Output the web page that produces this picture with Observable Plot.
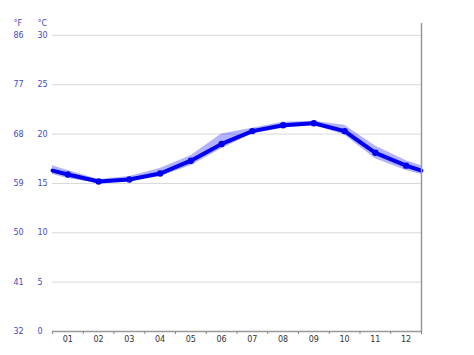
<!DOCTYPE html>
<html>
<head>
<meta charset="utf-8">
<script src="https://cdn.jsdelivr.net/npm/d3@7"></script>
<script src="https://cdn.jsdelivr.net/npm/@observablehq/plot@0.6"></script>
<style>
  html, body { margin: 0; padding: 0; background: white; }
</style>
</head>
<body>
<div id="chart"></div>
<script>
const months = ["01","02","03","04","05","06","07","08","09","10","11","12"];
const tempMean = [15.9, 15.2, 15.4, 16.0, 17.3, 19.0, 20.3, 20.9, 21.1, 20.3, 18.1, 16.8];
const tempMin  = [15.5, 15.0, 15.2, 15.7, 16.8, 18.5, 20.0, 20.6, 20.9, 19.9, 17.5, 16.3];
const tempMax  = [16.3, 15.4, 15.7, 16.5, 17.8, 20.0, 20.6, 21.2, 21.3, 20.9, 18.8, 17.3];
// values at the chart's left/right edges (year wrap)
const edgeMean = 16.3, edgeMin = 15.9, edgeMax = 16.8;
const celsiusTicks = [0, 5, 10, 15, 20, 25, 30];
const fahrenheitLabels = ["32", "41", "50", "59", "68", "77", "86"];

const monthly = months.map((m, i) => ({x: i + 1, mean: tempMean[i], min: tempMin[i], max: tempMax[i]}));
const series = [
  {x: 0.5, mean: edgeMean, min: edgeMin, max: edgeMax},
  ...monthly,
  {x: 12.5, mean: edgeMean, min: edgeMin, max: edgeMax}
];
const monthIdx = months.map((m, i) => i + 1);
const boundaries = d3.range(0.5, 13, 1);
const labelColor = "#4646c8";

const chart = Plot.plot({
  width: 474,
  height: 355,
  marginLeft: 52,
  marginRight: 53,
  marginTop: 23,
  marginBottom: 24,
  x: {domain: [0.5, 12.5], axis: null},
  y: {domain: [0, 31.2], axis: null},
  style: {fontFamily: "DejaVu Sans, sans-serif", fontSize: "8px", background: "white"},
  marks: [
    Plot.gridY(celsiusTicks.filter(d => d > 0), {stroke: "#d8d8d8", strokeOpacity: 1}),
    Plot.areaY(series, {x: "x", y1: "min", y2: "max", fill: "#0000ff", fillOpacity: 0.3}),
    Plot.line(series, {x: "x", y: "mean", stroke: "#0000ee", strokeWidth: 4}),
    Plot.dot(monthly, {x: "x", y: "mean", r: 3.2, fill: "#0000ee"}),
    Plot.ruleY([0], {stroke: "#999", strokeWidth: 1.5}),
    Plot.ruleX([12.5], {stroke: "#999", strokeWidth: 1.5}),
    Plot.axisX(boundaries, {tickSize: 3, tickFormat: () => "", stroke: "#888", label: null}),
    Plot.axisX(monthIdx, {tickSize: 0, tickPadding: 5, tickFormat: i => months[i - 1], fill: "#333", label: null}),
    Plot.text(celsiusTicks, {y: d => d, text: d => String(d), frameAnchor: "left", dx: -15, textAnchor: "start", fill: labelColor}),
    Plot.text(celsiusTicks, {y: d => d, text: (d, i) => fahrenheitLabels[i], frameAnchor: "left", dx: -39, textAnchor: "start", fill: labelColor}),
    Plot.text(["°C"], {frameAnchor: "top-left", dx: -15, dy: -3, textAnchor: "start", fill: labelColor}),
    Plot.text(["°F"], {frameAnchor: "top-left", dx: -39, dy: -3, textAnchor: "start", fill: labelColor})
  ]
});
document.getElementById("chart").appendChild(chart);
</script>
</body>
</html>
